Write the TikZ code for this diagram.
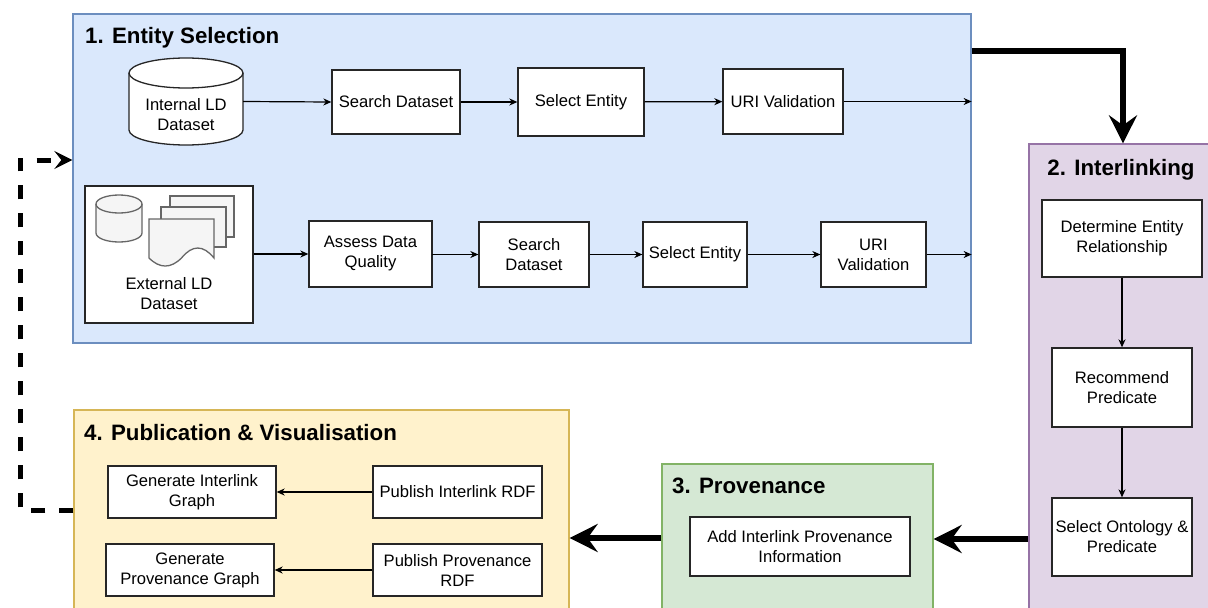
\documentclass[tikz,border=0pt]{standalone}
\usepackage{fontspec}
\setmainfont{Liberation Sans}
\usetikzlibrary{arrows.meta}
\definecolor{bluefill}{HTML}{DAE8FC}\definecolor{bluedraw}{HTML}{6C8EBF}
\definecolor{purpfill}{HTML}{E1D5E7}\definecolor{purpdraw}{HTML}{9673A6}
\definecolor{greenfill}{HTML}{D5E8D4}\definecolor{greendraw}{HTML}{82B366}
\definecolor{yelfill}{HTML}{FFF2CC}\definecolor{yeldraw}{HTML}{D6B656}
\definecolor{docfill}{HTML}{F5F5F5}\definecolor{docdraw}{HTML}{666666}
\tikzset{
  group/.style={draw=#1draw, fill=#1fill, line width=1.3pt, inner sep=0pt},
  stepbox/.style={draw=black!85, fill=white, line width=1.3pt, inner sep=0pt, align=center,
    font=\fontsize{16.6}{20}\selectfont},
  lbl/.style={inner sep=0pt, align=center, font=\fontsize{16.6}{20}\selectfont},
  title/.style={inner sep=0pt, font=\fontsize{22.3}{26}\selectfont\bfseries},
  arr/.style={draw=black, line width=1.2pt, -{Stealth[length=8pt,width=7pt,inset=2.5pt]}},
  bigarr/.style={draw=black, line width=6pt, -{Stealth[length=28pt,width=28pt,inset=10pt]}},
  dasharr/.style={draw=black, line width=5pt, dash pattern=on 14pt off 14pt,
    -{Stealth[length=18pt,width=18pt,inset=7pt]}},
  cyl/.style={draw=black!85, fill=white, line width=1.3pt},
  docshape/.style={draw=docdraw, fill=docfill, line width=1.3pt},
}
\begin{document}
\begin{tikzpicture}[x=1pt,y=-1pt]
\useasboundingbox (0,0) rectangle (1208,608);
\clip (0,0) rectangle (1208,608);
\fill[white] (0,0) rectangle (1208,608);

% group containers
\node[group=blue, minimum width=898pt, minimum height=329pt] (blue) at (522,178.5) {};
\node[group=purp, minimum width=188pt, minimum height=476pt] (purple) at (1123,382) {};
\node[group=green, minimum width=271pt, minimum height=156pt] (green) at (797.5,542) {};
\node[group=yel, minimum width=495pt, minimum height=210pt] (yellow) at (321.5,515) {};

% titles
\node[title, anchor=base west] (t1) at (85,43) {1. Entity Selection};
\node[title, anchor=base] (t2) at (1121,175) {2. Interlinking};
\node[title, anchor=base west] (t3) at (672,493) {3. Provenance};
\node[title, anchor=base west] (t4) at (84,440) {4. Publication \& Visualisation};

% internal LD dataset (cylinder)
\node[inner sep=0pt, minimum width=114pt, minimum height=87pt] (intds) at (186,101.5) {};
\filldraw[cyl] (129,73) -- (129,130) .. controls (129,138.3) and (154.5,145) .. (186,145)
  .. controls (217.5,145) and (243,138.3) .. (243,130) -- (243,73)
  .. controls (243,64.7) and (217.5,58) .. (186,58) .. controls (154.5,58) and (129,64.7) .. (129,73) -- cycle;
\draw[cyl, fill=none] (129,73) .. controls (129,81.3) and (154.5,88) .. (186,88)
  .. controls (217.5,88) and (243,81.3) .. (243,73);
\node[lbl] (intlbl) at (186,115) {Internal LD\\Dataset};

% top row
\node[stepbox, minimum width=128pt, minimum height=64pt] (sd1) at (396,102) {Search Dataset};
\node[stepbox, minimum width=126pt, minimum height=68pt] (se1) at (581,102) {Select Entity};
\node[stepbox, minimum width=120pt, minimum height=65pt] (uri1) at (783,101.5) {URI Validation};

% external LD dataset
\node[stepbox, minimum width=168pt, minimum height=137pt] (ext) at (169,254.5) {};
\filldraw[docshape] (96,204) -- (96,233) .. controls (96,238) and (106.3,242) .. (119,242)
  .. controls (131.7,242) and (142,238) .. (142,233) -- (142,204)
  .. controls (142,199) and (131.7,195) .. (119,195) .. controls (106.3,195) and (96,199) .. (96,204) -- cycle;
\draw[docshape, fill=none] (96,204) .. controls (96,209) and (106.3,213) .. (119,213)
  .. controls (131.7,213) and (142,209) .. (142,204);
\filldraw[docshape] (170,196) rectangle (234,237);
\filldraw[docshape] (161,207) rectangle (226,247);
\filldraw[docshape] (149,219) -- (214,219) -- (214,258)
  .. controls (203.2,244.7) and (192.3,244.7) .. (181.5,258)
  .. controls (170.7,268.7) and (159.8,268.7) .. (149,258) -- cycle;
\node[lbl] (extlbl) at (169,293.5) {External LD\\Dataset};

% bottom row
\node[stepbox, minimum width=123pt, minimum height=66pt] (adq) at (370.5,254) {Assess Data\\Quality};
\node[stepbox, minimum width=110pt, minimum height=65pt] (sd2) at (534,254.5) {Search\\Dataset};
\node[stepbox, minimum width=104pt, minimum height=65pt] (se2) at (695,254.5) {Select Entity};
\node[stepbox, minimum width=105pt, minimum height=65pt] (uri2) at (873.5,254.5) {URI\\Validation};

% interlinking
\node[stepbox, minimum width=160pt, minimum height=77pt] (der) at (1122,238.5) {Determine Entity\\Relationship};
\node[stepbox, minimum width=140pt, minimum height=79pt] (rp) at (1122,387.5) {Recommend\\Predicate};
\node[stepbox, minimum width=140pt, minimum height=78pt] (sop) at (1122,537) {Select Ontology \&\\Predicate};

% provenance
\node[stepbox, minimum width=220pt, minimum height=59pt] (aip) at (800,546.5) {Add Interlink Provenance\\Information};

% publication
\node[stepbox, minimum width=168pt, minimum height=52pt] (gig) at (192,492) {Generate Interlink\\Graph};
\node[stepbox, minimum width=169pt, minimum height=52pt] (pir) at (457.5,492) {Publish Interlink RDF};
\node[stepbox, minimum width=168pt, minimum height=52pt] (gpg) at (190,570) {Generate\\Provenance Graph};
\node[stepbox, minimum width=169pt, minimum height=52pt] (ppr) at (457.5,570) {Publish Provenance\\RDF};

% thin connectors
\draw[arr] (intds.east) -- (sd1.west);
\draw[arr] (sd1) -- (se1);
\draw[arr] (se1) -- (uri1);
\draw[arr] (uri1) -- (blue.east |- uri1);
\draw[arr] (ext.east |- adq) -- (adq.west);
\draw[arr] (adq) -- (sd2 -| adq.east) -- (sd2.west);
\draw[arr] (sd2) -- (se2);
\draw[arr] (se2) -- (uri2);
\draw[arr] (uri2) -- (blue.east |- uri2);
\draw[arr] (der) -- (rp);
\draw[arr] (rp) -- (sop);
\draw[arr] (pir) -- (gig);
\draw[arr] (ppr) -- (gpg);

% thick flow connectors
\coordinate (c1) at (1123,51);
\draw[bigarr] (blue.east |- c1) -- (c1) -- (purple.north);
\coordinate (c2) at (1000,539);
\draw[bigarr] (purple.west |- c2) -- (green.east |- c2);
\coordinate (c3) at (600,538);
\draw[bigarr] (green.west |- c3) -- (yellow.east |- c3);

% feedback dashed connector
\coordinate (d1) at (20,510);
\coordinate (d2) at (20,160);
\draw[dasharr] (yellow.west |- d1) -- (d1) -- (d2) -- (blue.west |- d2);
\end{tikzpicture}
\end{document}
